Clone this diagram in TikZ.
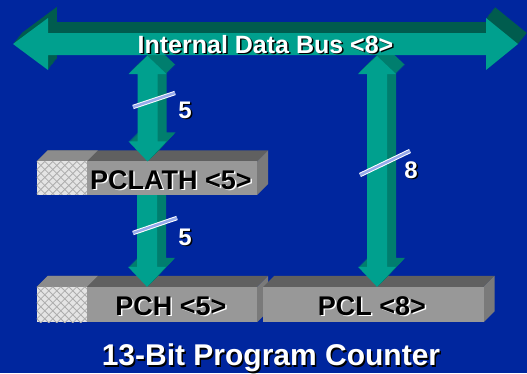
\documentclass[tikz,border=0pt]{standalone}
\usepackage{fontspec}
\setmainfont{Liberation Sans}
\usetikzlibrary{positioning, calc}

\definecolor{slidebg}{RGB}{0,38,158}
\definecolor{arrowfront}{RGB}{0,160,142}
\definecolor{arrowsidev}{RGB}{0,126,110}
\definecolor{arrowsideh}{RGB}{0,92,78}
\definecolor{regfront}{RGB}{152,152,152}
\definecolor{regtop}{RGB}{96,96,96}
\definecolor{regtoplight}{RGB}{140,140,140}
\definecolor{regside}{RGB}{122,122,122}
\definecolor{hatchfill}{RGB}{228,228,228}
\definecolor{hatchline}{RGB}{172,172,172}
\definecolor{slashcol}{RGB}{150,170,235}

\tikzset{
  regface/.style={minimum width=220pt, minimum height=35pt, inner sep=0pt},
  regtext/.style={font=\fontsize{27}{30}\selectfont\bfseries, inner sep=0pt, anchor=base},
  bustext/.style={font=\fontsize{25}{28}\selectfont\bfseries, inner sep=0pt, anchor=base},
  bitlabel/.style={font=\fontsize{24}{26}\selectfont\bfseries, inner sep=0pt, anchor=base},
  titletext/.style={font=\fontsize{30}{32}\selectfont\bfseries, inner sep=0pt, anchor=base},
  slash/.style={draw=white, double=slashcol, double distance=2.4pt, line width=1pt}
}

% double headed vertical arrow between two named points, #4 = depth offset
\newcommand{\dblshape}[4]{%
  \fill[#3] let \p1=($(#1)+(#4,-#4)$), \p2=($(#2)+(#4,-#4)$) in
    (\x1,\y1) -- (\x1+19pt,\y1-18pt) -- (\x1+10pt,\y1-18pt) -- (\x1+10pt,\y2+20pt)
    -- (\x1+19pt,\y2+20pt) -- (\x1,\y2) -- (\x1-19pt,\y2+20pt) -- (\x1-10pt,\y2+20pt)
    -- (\x1-10pt,\y1-18pt) -- (\x1-19pt,\y1-18pt) -- cycle;}
% single headed arrow pointing down
\newcommand{\downshape}[4]{%
  \fill[#3] let \p1=($(#1)+(#4,-#4)$), \p2=($(#2)+(#4,-#4)$) in
    (\x1-10pt,\y1) -- (\x1+10pt,\y1) -- (\x1+10pt,\y2+20pt) -- (\x1+19pt,\y2+20pt)
    -- (\x1,\y2) -- (\x1-19pt,\y2+20pt) -- (\x1-10pt,\y2+20pt) -- cycle;}
% the bus arrow
\newcommand{\busshape}[1]{%
  \fill[#1] (13,44) -- (48,18) -- (48,33) -- (486,33) -- (486,18) -- (518,44)
    -- (486,70) -- (486,55) -- (48,55) -- (48,70) -- cycle;}
% register bar with top and side faces
\newcommand{\regdraw}[1]{%
  \fill[regtop] (#1.north west) -- ++(11,-11) -- ([shift={(11,-11)}]#1.north east) -- (#1.north east) -- cycle;
  \fill[regside] (#1.north east) -- ++(11,-11) -- ([shift={(11,-11)}]#1.south east) -- (#1.south east) -- cycle;
  \fill[regfront] (#1.north west) rectangle (#1.south east);}
% unused bits, cross hatched
\newcommand{\reghatch}[1]{%
  \fill[regtoplight] (#1.north west) -- ++(11,-11) -- ++(50,0) -- ++(-11,11) -- cycle;
  \begin{scope}
    \clip (#1.north west) rectangle ([xshift=50pt]#1.south west);
    \fill[hatchfill] (#1.north west) rectangle ([xshift=50pt]#1.south west);
    \foreach \d in {-40,-32,...,96} {
      \draw[hatchline, line width=0.8pt] ([xshift=\d pt]#1.north west) -- ++(40,40);
      \draw[hatchline, line width=0.8pt] ([xshift=\d pt]#1.north west) -- ++(-40,40);
    }
  \end{scope}}

\begin{document}
\begin{tikzpicture}[x=1pt, y=-1pt]

   % Background of the slide
   \useasboundingbox (0,0) rectangle (527,373);
   \fill[slidebg] (0,0) rectangle (527,373);

   % Register front faces
   \node[regface] (pch) at (147,304.5) {};
   \node[regface, right=6pt of pch] (pcl) {};
   \node[regface, above=92pt of pch, minimum height=33pt] (pclath) {};

   % Points where the bus is tapped
   \coordinate (tapA) at (147.5,56);
   \coordinate (tapB) at (377,56);

   % PCH and PCL bars
   \regdraw{pch}
   \reghatch{pch}
   \regdraw{pcl}

   % PCLATH -> PCH
   \foreach \k in {9,...,1} {\downshape{pclath.center}{pch.north}{arrowsidev}{\k}}
   \downshape{pclath.center}{pch.north}{arrowfront}{0}

   % PCLATH bar
   \regdraw{pclath}
   \reghatch{pclath}

   % Bus <-> PCLATH and bus <-> PCL
   \foreach \k in {9,...,1} {\dblshape{tapA}{tapA |- pclath.north}{arrowsidev}{\k}}
   \dblshape{tapA}{tapA |- pclath.north}{arrowfront}{0}
   \foreach \k in {9,...,1} {\dblshape{tapB}{tapB |- pcl.north}{arrowsidev}{\k}}
   \dblshape{tapB}{tapB |- pcl.north}{arrowfront}{0}

   % Internal data bus
   \foreach \k in {11,...,1} {\busshape{arrowsideh, shift={({0.8*\k},-\k)}}}
   \busshape{arrowfront}
   \node[bustext, black] (busshadow) at (267,54.5) {Internal Data Bus <8>};
   \node[bustext, white] (buslabel) at (265.5,53) {Internal Data Bus <8>};

   % Register names
   \node[regtext, white] (pclathshadow) at (172.5,190.5) {PCLATH <5>};
   \node[regtext] (pclathlabel) at (171,189) {PCLATH <5>};
   \node[regtext, white] (pchshadow) at (172.5,316.5) {PCH <5>};
   \node[regtext] (pchlabel) at (171,315) {PCH <5>};
   \node[regtext, white] (pclshadow) at (373.5,316.5) {PCL <8>};
   \node[regtext] (pcllabel) at (372,315) {PCL <8>};

   % Bit width marks
   \draw[slash] (133,107) -- (175,93);
   \draw[slash] (133,233) -- (177,218);
   \draw[slash] (360,175) -- (410,151);
   \node[bitlabel, black] (bitAshadow) at (186.5,119.5) {5};
   \node[bitlabel, white] (bitA) at (185,118) {5};
   \node[bitlabel, black] (bitBshadow) at (186.5,246.5) {5};
   \node[bitlabel, white] (bitB) at (185,245) {5};
   \node[bitlabel, black] (bitCshadow) at (412.5,179.5) {8};
   \node[bitlabel, white] (bitC) at (411,178) {8};

   % Title
   \node[titletext, black] (titleshadow) at (272.5,367) {13-Bit Program Counter};
   \node[titletext, white] (title) at (271,365.5) {13-Bit Program Counter};

\end{tikzpicture}
\end{document}
